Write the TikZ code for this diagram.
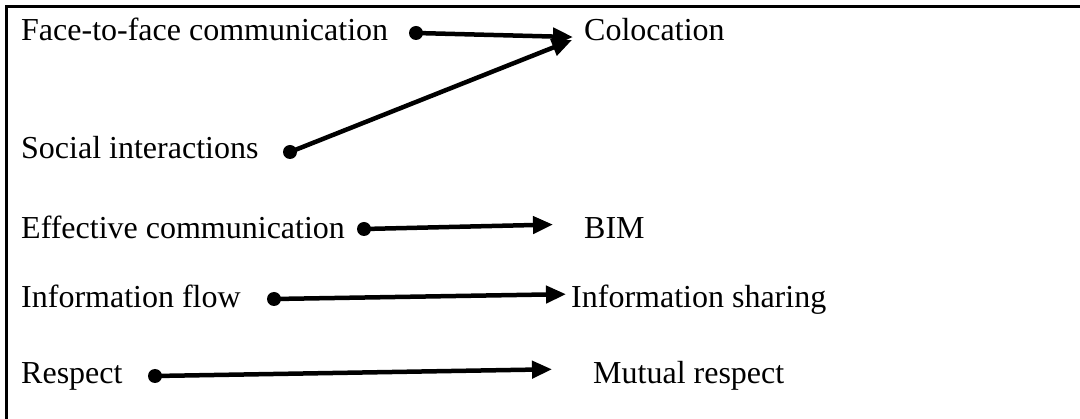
\documentclass[tikz,border=0pt]{standalone}
\usepackage{fontspec}
\setmainfont{Liberation Serif}
\usepackage{tikz}
\usetikzlibrary{arrows.meta,positioning}

\begin{document}
\begin{tikzpicture}[x=1pt,y=-1pt]
    \tikzset{
      textnode/.style={anchor=base west,inner sep=0pt,font=\fontsize{32}{38}\selectfont},
      dotnode/.style={circle,fill=black,inner sep=0pt,minimum size=14pt},
      frameline/.style={line width=3pt},
      arrow/.style={->,>={Triangle[length=20pt,width=17pt]},line width=4.5pt}
    }
    \useasboundingbox (0,0) rectangle (1080,419);
    \draw[frameline](6,419) -- (6,7) -- (1080,7);

    % causes
    \node[textnode](face) at (21,41){Face-to-face communication};
    \node[textnode](social) at (21,159){Social interactions};
    \node[textnode](effective) at (21,239){Effective communication};
    \node[textnode](flow) at (21,308){Information flow};
    \node[textnode](respect) at (21,384){Respect};

    % outcomes
    \node[textnode](colocation) at (584,41){Colocation};
    \node[textnode](bim) at (584,239){BIM};
    \node[textnode](sharing) at (571,308){Information sharing};
    \node[textnode](mutual) at (593,384){Mutual respect};

    \node[dotnode](facedot) at (416,33){};
    \node[dotnode](socialdot) at (290,152){};
    \node[dotnode](effectivedot) at (364,229){};
    \node[dotnode](flowdot) at (274,299){};
    \node[dotnode](respectdot) at (155,376){};

    \draw[arrow](facedot.center) -- ([xshift=-11pt,yshift=-7pt]colocation.west);
    \draw[arrow](socialdot.center) -- ([xshift=-12pt,yshift=-10pt]colocation.west);
    \draw[arrow](effectivedot.center) -- ([xshift=-31pt,yshift=4pt]bim.west);
    \draw[arrow](flowdot.center) -- ([xshift=-5pt,yshift=6pt]sharing.west);
    \draw[arrow](respectdot.center) -- ([xshift=-41pt,yshift=7pt]mutual.west);
\end{tikzpicture}
\end{document}
